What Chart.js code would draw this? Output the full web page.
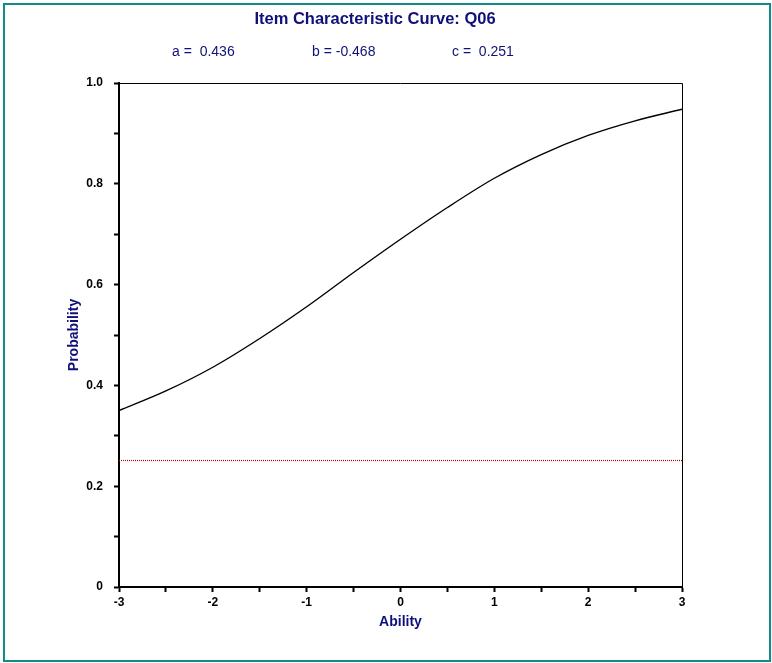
<!DOCTYPE html>
<html>
<head>
<meta charset="utf-8">
<script src="https://cdn.jsdelivr.net/npm/chart.js@4"></script>
<style>
  html, body { margin: 0; padding: 0; background: #fff; }
  #wrap { width: 772px; height: 663px; position: relative; }
</style>
</head>
<body>
<div id="wrap"><canvas id="iccChart"></canvas></div>
<script>
// Values
const abilityLevels = [-3, -2.5, -2, -1.5, -1, -0.5, 0, 0.5, 1, 1.5, 2, 2.5, 3];
const probabilities = [0.350, 0.389, 0.436, 0.493, 0.556, 0.624, 0.690, 0.753, 0.811, 0.858, 0.896, 0.925, 0.948];
const guessingX = [-3, 3];
const guessingY = [0.251, 0.251];
const paramLabels = ['a =  0.436', 'b = -0.468', 'c =  0.251'];
const chartTitle = 'Item Characteristic Curve: Q06';

const navy = '#10107a';
const fontFamily = '"Liberation Sans", Arial, sans-serif';

// Frame, title and item parameters
const decorPlugin = {
    id: 'decor',
    beforeDraw(chart) {
        const c = chart.ctx;
        c.save();
        c.fillStyle = '#fff';
        c.fillRect(0, 0, chart.width, chart.height);
        c.restore();
    },
    afterDraw(chart) {
        const c = chart.ctx;
        const area = chart.chartArea;
        c.save();
        // outer teal border
        c.strokeStyle = '#108a8a';
        c.lineWidth = 2;
        c.strokeRect(4, 4, 766, 657);
        // top and right of the plot box
        c.strokeStyle = '#000';
        c.lineWidth = 1;
        c.beginPath();
        c.moveTo(area.left, area.top + 0.5);
        c.lineTo(area.right + 0.5, area.top + 0.5);
        c.lineTo(area.right + 0.5, area.bottom);
        c.stroke();
        // title
        c.fillStyle = navy;
        c.textAlign = 'center';
        c.textBaseline = 'middle';
        c.font = 'bold 16.5px ' + fontFamily;
        c.fillText(chartTitle, 375, 19);
        // item parameters
        c.font = '14px ' + fontFamily;
        c.textAlign = 'left';
        const px = [172, 312, 452];
        paramLabels.forEach((t, i) => c.fillText(t, px[i], 52));
        c.restore();
    }
};

const ctx = document.getElementById('iccChart').getContext('2d');

const iccChart = new Chart(ctx, {
    type: 'line',
    data: {
        datasets: [
            {
                label: 'ICC',
                data: abilityLevels.map((x, i) => ({ x: x, y: probabilities[i] })),
                borderColor: '#000',
                borderWidth: 1.4,
                pointRadius: 0,
                cubicInterpolationMode: 'monotone',
                fill: false
            },
            {
                label: 'Guessing',
                data: guessingX.map((x, i) => ({ x: x, y: guessingY[i] })),
                borderColor: '#c00000',
                borderWidth: 1.2,
                borderDash: [1, 1],
                pointRadius: 0,
                fill: false
            }
        ]
    },
    options: {
        responsive: true,
        maintainAspectRatio: false,
        animation: false,
        layout: {
            padding: { top: 83, right: 90, bottom: 0, left: 0 }
        },
        plugins: {
            legend: { display: false },
            tooltip: { enabled: false }
        },
        scales: {
            x: {
                type: 'linear',
                min: -3,
                max: 3,
                afterFit: (scale) => { scale.height = 76; },
                border: { color: '#000', width: 2 },
                grid: {
                    drawOnChartArea: false,
                    drawTicks: true,
                    tickLength: 5,
                    tickWidth: 2,
                    tickColor: '#000'
                },
                ticks: {
                    stepSize: 0.5,
                    autoSkip: false,
                    maxRotation: 0,
                    padding: 3,
                    color: '#000',
                    font: { family: fontFamily, size: 12, weight: 'bold' },
                    callback: (v) => Number.isInteger(v) ? String(v) : ''
                },
                title: {
                    display: true,
                    text: 'Ability',
                    color: navy,
                    padding: { top: 0, bottom: 32 },
                    font: { family: fontFamily, size: 14, weight: 'bold' }
                }
            },
            y: {
                type: 'linear',
                min: 0,
                max: 1,
                afterFit: (scale) => { scale.width = 119; },
                border: { color: '#000', width: 2 },
                grid: {
                    drawOnChartArea: false,
                    drawTicks: true,
                    tickLength: 5,
                    tickWidth: 2,
                    tickColor: '#000'
                },
                ticks: {
                    stepSize: 0.1,
                    autoSkip: false,
                    padding: 11,
                    color: '#000',
                    font: { family: fontFamily, size: 12, weight: 'bold' },
                    callback: (v) => {
                        const r = Math.round(v * 10);
                        if (r % 2 !== 0) return '';
                        return r === 0 ? '0' : (r / 10).toFixed(1);
                    }
                },
                title: {
                    display: true,
                    text: 'Probability',
                    color: navy,
                    padding: { top: 66, bottom: 0 },
                    font: { family: fontFamily, size: 14, weight: 'bold' }
                }
            }
        }
    },
    plugins: [decorPlugin]
});
</script>
</body>
</html>
